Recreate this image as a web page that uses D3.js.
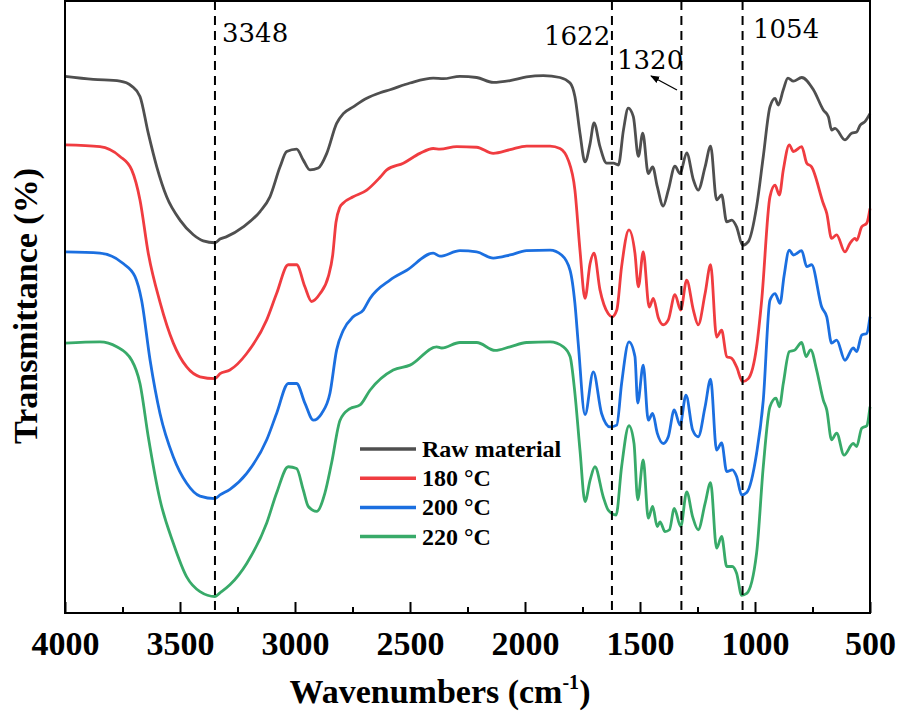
<!DOCTYPE html>
<html><head><meta charset="utf-8">
<script src="https://cdn.jsdelivr.net/npm/d3@7"></script>
<style>body{margin:0;background:#fff}</style>
</head><body>
<svg id="chart" width="898" height="712"></svg>
<script>
// ---- data ----
const seriesNames = ["Raw material", "180 \u00B0C", "200 \u00B0C", "220 \u00B0C"];
const seriesColors = ["#4f4f4f", "#f03c40", "#1b6fe0", "#38aa69"];

const rawMaterial = [[4000,87.7],[3877,87.2],[3761,86.9],[3710,86.1],[3674,84.4],[3638,78.4],[3601,72.9],[3558,68.0],[3500,64.2],[3442,61.8],[3399,60.8],[3348,60.5],[3326,61.1],[3297,61.5],[3225,63.1],[3152,65.6],[3109,68.0],[3065,72.9],[3036,75.4],[2993,75.8],[2964,74.0],[2935,72.4],[2899,72.7],[2862,75.1],[2819,80.0],[2790,81.6],[2747,82.7],[2688,84.1],[2630,85.0],[2587,85.5],[2500,86.6],[2399,87.4],[2355,87.3],[2283,87.7],[2210,87.5],[2138,86.7],[2065,87.0],[1993,87.6],[1920,87.8],[1848,87.5],[1804,86.6],[1783,84.4],[1761,78.4],[1739,73.7],[1717,76.7],[1700,80.1],[1674,76.2],[1645,73.5],[1616,73.5],[1594,73.2],[1572,78.9],[1551,82.5],[1529,81.1],[1507,74.6],[1488,78.4],[1464,71.8],[1445,72.9],[1425,69.7],[1399,66.5],[1377,69.1],[1348,73.0],[1326,71.8],[1297,75.2],[1268,70.8],[1247,69.1],[1217,72.9],[1193,76.3],[1167,67.5],[1145,68.3],[1123,63.9],[1101,64.2],[1080,63.1],[1054,60.1],[1029,60.7],[993,66.4],[964,74.6],[935,82.7],[913,84.1],[899,83.0],[877,85.5],[857,87.4],[833,86.9],[797,87.5],[746,85.5],[703,82.2],[681,81.1],[667,78.9],[652,79.2],[609,77.3],[580,78.4],[558,78.6],[543,79.7],[522,80.3],[500,81.6]];

const temp180 = [[4000,76.5],[3848,76.2],[3761,74.6],[3710,72.4],[3674,67.5],[3638,58.8],[3587,50.8],[3529,44.1],[3471,40.2],[3413,38.6],[3348,38.3],[3326,39.1],[3283,39.7],[3210,42.4],[3123,47.9],[3080,52.2],[3029,56.9],[2993,56.9],[2957,53.3],[2928,50.9],[2891,52.2],[2855,55.0],[2836,58.5],[2822,63.8],[2805,66.3],[2790,67.0],[2747,68.0],[2688,69.1],[2630,71.2],[2601,72.4],[2529,73.5],[2457,75.1],[2399,75.9],[2370,75.8],[2297,76.2],[2210,76.1],[2138,75.1],[2065,75.7],[1993,76.3],[1891,76.3],[1848,75.9],[1812,74.0],[1783,69.1],[1761,59.3],[1739,51.4],[1717,57.1],[1700,58.8],[1674,52.8],[1638,48.9],[1621,48.4],[1601,49.5],[1580,56.6],[1548,62.6],[1522,58.8],[1507,53.3],[1486,59.0],[1460,50.0],[1442,51.4],[1420,48.2],[1399,47.1],[1377,47.9],[1348,52.0],[1323,49.5],[1297,54.4],[1268,49.5],[1247,47.1],[1217,52.2],[1193,56.9],[1167,45.1],[1145,46.2],[1123,41.9],[1101,41.6],[1080,40.2],[1054,37.8],[1029,38.3],[993,43.5],[971,51.1],[935,68.0],[913,69.9],[894,68.3],[877,72.4],[851,76.5],[833,75.4],[797,76.2],[775,73.5],[754,72.9],[703,66.9],[688,65.3],[667,61.2],[645,61.8],[609,59.0],[587,60.4],[565,61.2],[558,60.9],[536,63.1],[514,63.7],[500,66.1]];

const temp200 = [[4000,59.0],[3848,58.8],[3747,57.1],[3696,55.0],[3667,51.1],[3630,41.3],[3587,32.6],[3529,25.5],[3471,21.2],[3413,19.1],[3348,18.7],[3326,19.3],[3283,20.2],[3210,22.8],[3123,28.3],[3080,32.6],[3029,37.5],[2993,37.5],[2957,34.3],[2920,31.5],[2884,32.6],[2848,35.9],[2819,43.0],[2790,46.2],[2747,48.4],[2703,49.5],[2674,51.4],[2587,54.4],[2514,56.0],[2399,58.8],[2370,58.3],[2283,59.2],[2210,59.0],[2138,58.0],[2065,58.5],[1993,59.2],[1891,59.3],[1841,58.5],[1804,56.0],[1783,50.6],[1768,43.8],[1739,32.4],[1703,39.4],[1667,32.6],[1630,30.4],[1601,30.7],[1580,37.5],[1548,44.3],[1522,41.9],[1510,34.3],[1486,40.5],[1464,31.5],[1445,32.6],[1425,29.4],[1399,27.7],[1377,28.8],[1351,33.2],[1326,30.7],[1300,35.6],[1271,29.9],[1247,28.8],[1217,33.7],[1193,38.2],[1167,26.6],[1145,27.8],[1123,23.1],[1099,23.4],[1080,22.3],[1058,19.3],[1036,19.7],[993,26.1],[964,34.8],[935,51.1],[913,52.2],[891,50.6],[874,55.0],[851,59.3],[833,58.5],[797,59.2],[775,56.6],[754,56.9],[710,50.0],[688,48.4],[667,44.1],[645,44.6],[609,41.3],[573,43.3],[558,42.7],[536,45.4],[514,45.7],[500,48.4]];

const temp220 = [[4000,44.1],[3848,44.3],[3775,43.5],[3710,41.3],[3674,37.5],[3638,28.8],[3587,18.5],[3529,11.4],[3471,5.9],[3413,3.5],[3348,2.7],[3326,3.3],[3283,4.6],[3210,8.1],[3123,14.7],[3080,19.6],[3029,23.9],[2993,23.6],[2964,20.1],[2942,17.4],[2906,16.6],[2870,19.6],[2841,24.5],[2804,31.5],[2761,33.4],[2717,34.0],[2674,36.4],[2573,39.7],[2500,40.5],[2384,43.5],[2362,43.3],[2283,44.2],[2210,44.2],[2130,42.9],[2065,43.5],[1993,44.2],[1891,44.3],[1833,43.5],[1804,41.9],[1783,35.9],[1761,26.6],[1739,18.2],[1717,21.7],[1696,23.9],[1660,19.0],[1638,16.8],[1604,16.0],[1580,23.9],[1548,30.6],[1526,27.7],[1510,18.5],[1486,25.0],[1464,15.5],[1445,17.4],[1425,14.1],[1413,14.9],[1391,13.3],[1372,13.6],[1351,17.1],[1323,14.1],[1297,19.8],[1271,15.7],[1247,13.6],[1217,17.9],[1193,21.3],[1167,10.6],[1145,12.5],[1123,7.6],[1099,7.6],[1080,6.5],[1058,2.9],[1036,3.2],[993,9.8],[964,23.9],[935,33.7],[909,35.1],[894,33.7],[877,37.5],[851,42.7],[826,43.0],[797,44.2],[778,41.9],[758,43.0],[732,39.7],[703,34.8],[688,33.2],[667,28.3],[645,29.4],[613,25.8],[573,27.7],[558,27.2],[536,30.2],[514,30.6],[500,33.7]];

const majorTicks = [4000, 3500, 3000, 2500, 2000, 1500, 1000, 500];
const minorTicks = [3750, 3250, 2750, 2250, 1750, 1250, 750];
const peakMarkers = [3348, 1622, 1320, 1054];
const peakLabels = ["3348", "1622", "1320", "1054"];

// ---- layout ----
const svg = d3.select("#chart");
const L = 65, R = 870, T = 1, B = 613;
const x = d3.scaleLinear().domain([4000, 500]).range([L, R]);
const y = d3.scaleLinear().domain([0, 100]).range([B, T]);
const serif = "Liberation Serif, Times New Roman, serif";

// curves
const line = d3.line().x(d => x(d[0])).y(d => y(d[1])).curve(d3.curveMonotoneX);
const allSeries = [rawMaterial, temp180, temp200, temp220];
const g = svg.append("g");
allSeries.forEach((s, i) => {
  g.append("path").datum(s).attr("d", line)
    .attr("fill", "none").attr("stroke", seriesColors[i])
    .attr("stroke-width", 2.8).attr("stroke-linejoin", "round");
});

// dashed markers
svg.selectAll("line.peak").data(peakMarkers).join("line")
  .attr("class", "peak")
  .attr("x1", d => x(d)).attr("x2", d => x(d))
  .attr("y1", T).attr("y2", B)
  .attr("stroke", "#000").attr("stroke-width", 2)
  .attr("stroke-dasharray", "9,6");

// peak labels
const labelPos = [[222, 42], [544, 45], [617, 69], [753, 38]];
svg.selectAll("text.peak").data(peakLabels).join("text")
  .attr("class", "peak")
  .attr("x", (d, i) => labelPos[i][0]).attr("y", (d, i) => labelPos[i][1])
  .style("font-family", "DejaVu Serif, serif").style("font-size", "26px")
  .attr("fill", "#000").text(d => d);

// arrow
svg.append("defs").append("marker")
  .attr("id", "ah").attr("viewBox", "0 0 10 10").attr("refX", 9).attr("refY", 5)
  .attr("markerWidth", 7).attr("markerHeight", 7).attr("orient", "auto-start-reverse")
  .append("path").attr("d", "M0,1 L10,5 L0,9 Z").attr("fill", "#000");
svg.append("line").attr("x1", 677).attr("y1", 90).attr("x2", 651).attr("y2", 76)
  .attr("stroke", "#000").attr("stroke-width", 1.3).attr("marker-end", "url(#ah)");

// frame
svg.append("rect").attr("x", L).attr("y", T).attr("width", R - L).attr("height", B - T)
  .attr("fill", "none").attr("stroke", "#000").attr("stroke-width", 2);

// x axis
const ax = svg.append("g").attr("transform", `translate(0,${B})`)
  .call(d3.axisBottom(x).tickValues(majorTicks).tickSize(-11).tickFormat(d3.format("d")));
ax.attr("font-family", null).attr("font-size", null);
ax.select(".domain").remove();
ax.selectAll(".tick line").attr("stroke", "#000").attr("stroke-width", 2);
ax.selectAll(".tick text").attr("y", 42).attr("dy", null)
  .style("font-family", serif).style("font-weight", "bold").style("font-size", "34px").attr("fill", "#000");
const axm = svg.append("g").attr("transform", `translate(0,${B})`)
  .call(d3.axisBottom(x).tickValues(minorTicks).tickSize(-6).tickFormat(""));
axm.select(".domain").remove();
axm.selectAll(".tick line").attr("stroke", "#000").attr("stroke-width", 2);

// axis titles
const xt = svg.append("text").attr("x", 440).attr("y", 703).attr("text-anchor", "middle")
  .style("font-family", serif).style("font-weight", "bold").style("font-size", "34px");
xt.append("tspan").text("Wavenumbers (cm");
xt.append("tspan").style("font-size", "20px").attr("dy", -14).text("-1");
xt.append("tspan").attr("dy", 14).text(")");

svg.append("text").attr("transform", "translate(37,306) rotate(-90)")
  .attr("text-anchor", "middle")
  .style("font-family", serif).style("font-weight", "bold").style("font-size", "34px")
  .text("Transmittance (%)");

// legend
const lg = svg.append("g");
seriesNames.forEach((n, i) => {
  const yy = 449 + i * 29.2;
  lg.append("line").attr("x1", 360).attr("x2", 416).attr("y1", yy).attr("y2", yy)
    .attr("stroke", seriesColors[i]).attr("stroke-width", 3.5);
  lg.append("text").attr("x", 422).attr("y", yy + 8)
    .style("font-family", serif).style("font-weight", "bold").style("font-size", "24px")
    .text(n);
});
</script>
</body></html>
